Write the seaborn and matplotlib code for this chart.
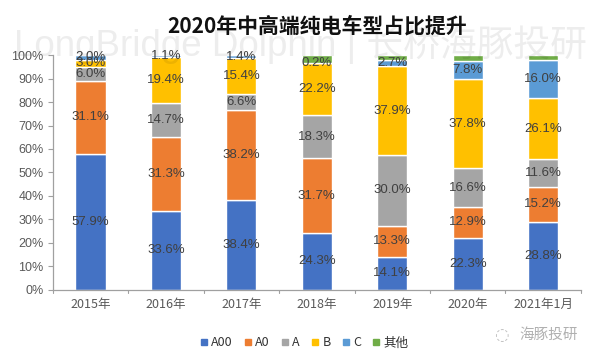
import numpy as np
import pandas as pd
import matplotlib
matplotlib.use("Agg")
import matplotlib.pyplot as plt
import seaborn as sns
from matplotlib.lines import Line2D

categories = ["2015年", "2016年", "2017年", "2018年", "2019年", "2020年", "2021年1月"]
series_names = ["A00", "A0", "A", "B", "C", "其他"]
a00 = [57.9, 33.6, 38.4, 24.3, 14.1, 22.3, 28.8]
a0 = [31.1, 31.3, 38.2, 31.7, 13.3, 12.9, 15.2]
a = [6.0, 14.7, 6.6, 18.3, 30.0, 16.6, 11.6]
b = [3.0, 19.4, 15.4, 22.2, 37.9, 37.8, 26.1]
c = [2.0, 1.1, 1.4, 0.2, 2.7, 7.8, 16.0]
other = [0.0, 0.0, 0.0, 3.3, 2.0, 2.6, 2.3]
yticks = [0, 10, 20, 30, 40, 50, 60, 70, 80, 90, 100]
colors = ["#4472C4", "#ED7D31", "#A5A5A5", "#FFC000", "#5B9BD5", "#70AD47"]
title = "2020年中高端纯电车型占比提升"

sns.set_style("white")
plt.rcParams["font.family"] = ["Noto Sans CJK SC", "DejaVu Sans"]
latin = ["Liberation Sans", "DejaVu Sans"]

fig = plt.figure(figsize=(6, 3.62), dpi=100)
ax = fig.add_axes([0.088, 0.199, 0.88, 0.649])

# watermark
fig.text(0.5, 0.876, "LongBridge Dolphin | 长桥海豚投研", ha="center", va="center",
         fontsize=26.5, color="#000000", alpha=0.07, family=["Liberation Sans", "Noto Sans CJK SC"])

all_series = [a00, a0, a, b, c, other]
bottom = np.zeros(len(categories))
for name, vals, col in zip(series_names, all_series, colors):
    df = pd.DataFrame({"cat": categories, "val": vals})
    sns.barplot(data=df, x="cat", y="val", order=categories, color=col, width=0.4,
                bottom=bottom, ax=ax, saturation=1, errorbar=None, zorder=2)
    cont = ax.containers[-1]
    if name != "其他":
        labels = [f"{v:.1f}%" for v in vals]
        ax.bar_label(cont, labels=labels, label_type="center", fontsize=9.5,
                     color="#404040", family=latin)
    bottom = bottom + np.array(vals)

if ax.get_legend() is not None:
    ax.get_legend().remove()

ax.set_ylim(0, 100)
ax.set_xlim(-0.5, len(categories) - 0.5)
ax.set_yticks(yticks)
ax.set_yticklabels([f"{t}%" for t in yticks], fontsize=9, color="#595959", family=latin)
ax.set_xticks(range(len(categories)))
ax.set_xticklabels(categories, fontsize=9, color="#595959")
ax.tick_params(axis="x", length=0, pad=6)
ax.tick_params(axis="y", length=3.5, width=0.8, color="#A0A0A0", pad=3, left=True)
for i in range(len(categories) + 1):
    ax.plot([i - 0.5, i - 0.5], [0, -1.5], color="#A0A0A0", lw=0.8, clip_on=False)
ax.set_xlabel("")
ax.set_ylabel("")
for s in ["top", "right"]:
    ax.spines[s].set_visible(False)
for s in ["bottom", "left"]:
    ax.spines[s].set_color("#A0A0A0")
    ax.spines[s].set_linewidth(0.9)
ax.set_title(title, fontsize=15, fontweight="bold", color="#111111", pad=16)

handles = [Line2D([0], [0], marker="s", linestyle="", markersize=4.5,
                  markerfacecolor=col, markeredgecolor=col) for col in colors]
fig.legend(handles, series_names, loc="center", bbox_to_anchor=(0.505, 1 - 343 / 362),
           ncol=6, frameon=False, fontsize=9, handletextpad=0.1, columnspacing=0.7,
           handlelength=1.0, labelcolor="#333333")

fig.text(0.915, 1 - 335 / 362, "海豚投研", ha="center", va="center", fontsize=10.5,
         color="#B0B0B0")
fig.text(0.835, 1 - 335 / 362, "◌", ha="center", va="center", fontsize=12,
         color="#C0C0C0", family=["DejaVu Sans"])

fig.savefig("out.png", dpi=100)
